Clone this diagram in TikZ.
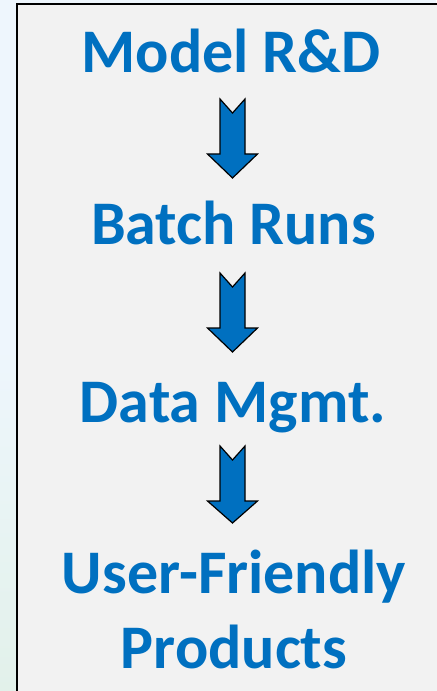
\documentclass[tikz,border=0pt]{standalone}
\usepackage{fontspec}
\setmainfont{Carlito}
\definecolor{txtblue}{HTML}{0070C0}
\definecolor{panel}{HTML}{F2F2F2}
\definecolor{outsidetop}{HTML}{EEF6FD}
\definecolor{outsidebot}{HTML}{E2F1EA}
\tikzset{
  label text/.style={text=txtblue, font=\bfseries\fontsize{46.5}{56.25}\selectfont, inner sep=0pt, align=center},
  blockarrow/.style={fill=txtblue, draw=black, line width=0.9pt, line join=miter}
}
\begin{document}
\begin{tikzpicture}[x=0.75pt,y=-0.75pt]
\useasboundingbox (0,0) rectangle (436,691);
% surroundings
\fill[outsidetop] (0,0) rectangle (436,691);
\shade[top color=outsidetop, bottom color=outsidebot, middle color=outsidetop] (0,0) rectangle (17,691);
% panel
\draw[fill=panel, line width=1.6pt] (17,4) rectangle (445,700);
% texts
\node[label text, anchor=base] (rd) at (231,73) {Model R\&D};
\node[label text, anchor=base] (batch) at (233.5,245) {Batch Runs};
\node[label text, anchor=base] (data) at (233,422) {Data Mgmt.};
\node[label text, anchor=base] (user) at (234,668) {User-Friendly\\Products};
% arrows
\coordinate (a1) at (232.5,99);
\coordinate (a2) at (232.5,273);
\coordinate (a3) at (232.5,446);
\foreach \c/\len in {a1/79,a2/79,a3/77}{
  \draw[blockarrow, shift={(\c)}] (-12.5,0) -- (0,14) -- (12.5,0) -- (12.5,55) -- (25,55) -- (0,\len) -- (-25,55) -- (-12.5,55) -- cycle;
}
\end{tikzpicture}
\end{document}
